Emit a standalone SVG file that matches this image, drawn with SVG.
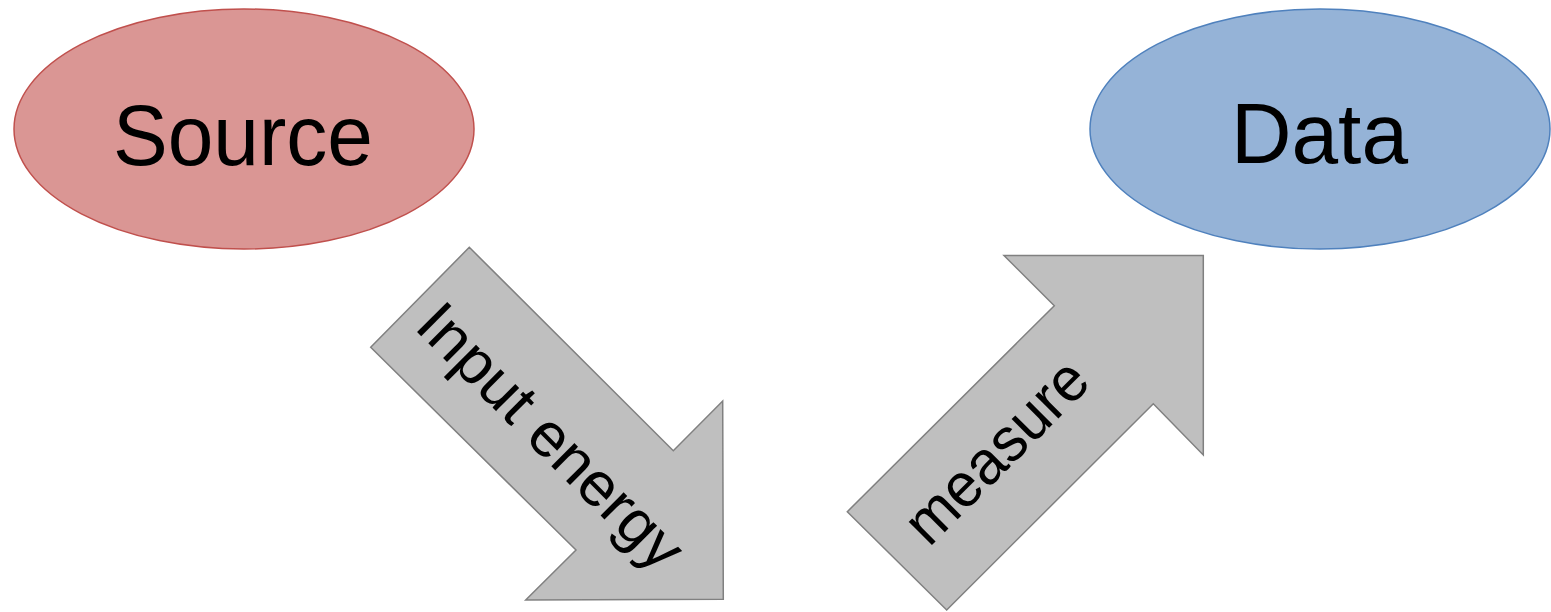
<svg xmlns="http://www.w3.org/2000/svg" width="1551" height="612" viewBox="0 0 1551 612">
<style>
.lbl{font-family:"Liberation Sans",Arial,sans-serif;fill:#000}
.big{font-size:86px}
.arr{fill:#BFBFBF;stroke:#808080;stroke-width:1.5}
.small{font-size:62px}
</style>
<rect width="1551" height="612" fill="#fff"/>
<g id="source">
<ellipse cx="244" cy="129" rx="230" ry="120" fill="#DA9694" stroke="#C0504D" stroke-width="1.5"/>
<text class="lbl big" x="113" y="165" textLength="260" lengthAdjust="spacingAndGlyphs">Source</text>
</g>
<g id="data">
<ellipse cx="1320" cy="129" rx="230" ry="120" fill="#95B3D7" stroke="#4F81BD" stroke-width="1.5"/>
<text class="lbl big" x="1231" y="163" textLength="177" lengthAdjust="spacingAndGlyphs">Data</text>
</g>
<g id="connectors">
<g id="input-energy">
<polygon class="arr" points="469.3,247.3 370.7,347.3 576,550 525.7,600 723.3,599.3 722.7,401 673.3,450.7"/>
<text class="lbl small" transform="translate(413,328) rotate(45)" x="0" y="0" textLength="348" lengthAdjust="spacingAndGlyphs">Input energy</text>
</g>
<g id="measure">
<polygon class="arr" points="1004,255.5 1203.3,255.5 1203.3,455 1153.3,403.7 946.7,610 847.3,511.7 1054.3,305.7"/>
<text class="lbl small" transform="translate(929,548) rotate(-45)" x="0" y="0" textLength="232" lengthAdjust="spacingAndGlyphs">measure</text>
</g>
</g>
</svg>
